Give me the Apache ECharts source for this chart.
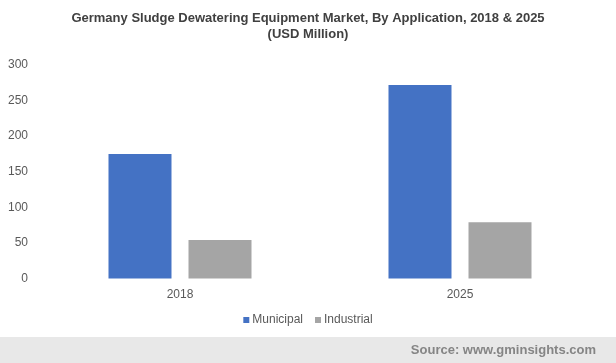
<!DOCTYPE html>
<html><head><meta charset="utf-8">
<script src="https://cdn.jsdelivr.net/npm/echarts@6/dist/echarts.min.js"></script>
<style>html,body{margin:0;padding:0;background:#fff}#c{width:616px;height:363px}</style>
</head><body><div id="c"></div>
<script>
const categories = ['2018', '2025'];
const municipal = [175, 272];
const industrial = [54, 79];
const yTicks = [0, 50, 100, 150, 200, 250, 300];

const chart = echarts.init(document.getElementById('c'));
chart.setOption({
  animation: false,
  textStyle: { fontFamily: 'Liberation Sans, Arial, sans-serif' },
  title: {
    text: 'Germany Sludge Dewatering Equipment Market, By Application, 2018 & 2025\n(USD Million)',
    left: 'center', top: 5,
    textStyle: { fontSize: 13, fontWeight: 'bold', color: '#404040', lineHeight: 16 }
  },
  legend: {
    bottom: 32, left: 'center',
    itemWidth: 6, itemHeight: 6, itemGap: 12,
    icon: 'rect',
    textStyle: { fontSize: 12, color: '#595959', padding: [0, 0, 0, -2] },
    data: ['Municipal', 'Industrial']
  },
  grid: { left: 40, right: 16, top: 65, bottom: 84.5, containLabel: false },
  xAxis: {
    type: 'category', data: categories,
    axisLine: { show: false }, axisTick: { show: false },
    axisLabel: { fontSize: 12, color: '#595959', margin: 10 }
  },
  yAxis: {
    type: 'value', min: yTicks[0], max: yTicks[yTicks.length - 1], interval: 50,
    axisLine: { show: false }, axisTick: { show: false },
    splitLine: { show: false },
    axisLabel: { fontSize: 12, color: '#595959', margin: 12 }
  },
  series: [
    { name: 'Municipal', type: 'bar', data: municipal, barWidth: 63, barGap: '27%', itemStyle: { color: '#4472C4' } },
    { name: 'Industrial', type: 'bar', data: industrial, barWidth: 63, itemStyle: { color: '#A5A5A5' } }
  ],
  graphic: [
    { type: 'rect', left: 0, top: 337, shape: { width: 616, height: 26 }, style: { fill: '#E8E8E8' }, silent: true },
    { type: 'text', right: 20, top: 344, style: { text: 'Source: www.gminsights.com', fill: '#858585', font: 'bold 13px Liberation Sans, Arial, sans-serif' } }
  ]
});
</script></body></html>
